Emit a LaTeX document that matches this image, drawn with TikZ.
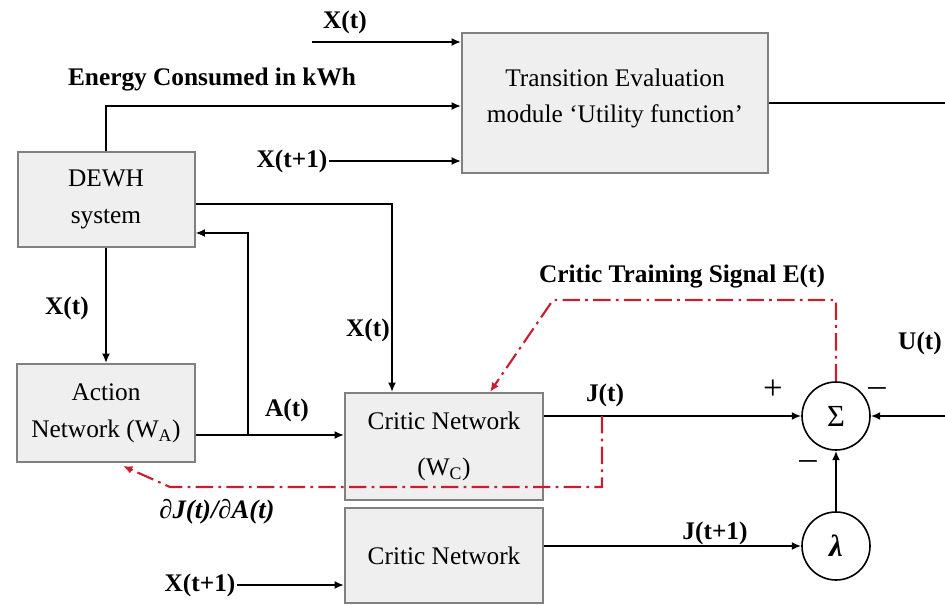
\documentclass[tikz,border=0pt]{standalone}
\usepackage{fontspec}
\setmainfont{Liberation Serif}
\usetikzlibrary{arrows.meta,calc}
\definecolor{boxfill}{RGB}{239,239,239}
\definecolor{boxline}{RGB}{128,128,128}
\definecolor{sigred}{RGB}{200,30,50}
\begin{document}
\begin{tikzpicture}[x=0.75pt,y=-0.75pt,
  every node/.style={font=\fontsize{19}{22}\selectfont},
  blockbox/.style={draw=boxline,line width=1.5pt,fill=boxfill,align=center,inner sep=0pt},
  sumcircle/.style={circle,draw=black,line width=1.2pt,minimum size={68*0.75pt},inner sep=0pt},
  lab/.style={font=\fontsize{19}{22}\selectfont\bfseries,inner sep=1pt},
  sign/.style={font=\fontsize{26}{28}\selectfont,inner sep=0pt},
  arr/.style={line width=1.6pt,-{Latex[length=7pt,width=6pt]}},
  wire/.style={line width=1.6pt},
  redsig/.style={draw=sigred,line width=1.6pt,dash pattern=on 13pt off 4pt on 2pt off 4pt,-{Latex[length=7pt,width=6pt]}}
]
\useasboundingbox (0,0) rectangle (945,606);
% blocks
\node[blockbox,minimum width={306*0.75pt},minimum height={140*0.75pt}] (trans) at (615,103)
  {Transition Evaluation\\[5pt]module `Utility function'\\[-11.5pt]\mbox{}};
\node[blockbox,minimum width={177*0.75pt},minimum height={95*0.75pt}] (dewh) at (106,199.5)
  {DEWH\\[6pt]system};
\node[blockbox,minimum width={178*0.75pt},minimum height={98*0.75pt}] (action) at (106,413)
  {Action\\[6pt]Network (W$_\mathrm{A}$)};
\node[blockbox,minimum width={198*0.75pt},minimum height={107*0.75pt}] (critic) at (444,446.5)
  {Critic Network\\[13pt](W$_\mathrm{C}$)};
\node[blockbox,minimum width={198*0.75pt},minimum height={95*0.75pt}] (critic2) at (444,555.5)
  {Critic Network};
\node[sumcircle,font=\fontsize{23}{25}\selectfont] (sigma) at (836,416) {Σ};
\node[sumcircle,font=\fontsize{23}{25}\selectfont\bfseries\itshape] (lam) at (836,546) {λ};

% coordinates
\coordinate (xt0) at (312,42);
\coordinate (e1) at (106,106);
\coordinate (d1) at (392,204);
\coordinate (a1) at (248,435);
\coordinate (a2) at (248,233);
\coordinate (u0) at (945,416);
\coordinate (r1) at (553,300);
\coordinate (r2) at (490,0);
\coordinate (j1) at (602,416);
\coordinate (j2) at (170,487);
\coordinate (j3) at (123,466);

% labels
\node[lab] (lxt) at (345,22) {X(t)};
\node[lab] (len) at (212,80) {Energy Consumed in kWh};
\node[lab] (lxt1) at (292,161) {X(t+1)};
\node[lab] (lxa) at (67,308) {X(t)};
\node[lab] (lxc) at (368,330) {X(t)};
\node[lab] (lat) at (287,410) {A(t)};
\node[lab] (ljt) at (605,395) {J(t)};
\node[sign] (plus) at (773,390) {+};
\node[sign] (m1) at (877,392) {–};
\node[sign] (m2) at (808,465) {–};
\node[lab] (lut) at (920,343) {U(t)};
\node[lab] (ljt1) at (715,533) {J(t+1)};
\node[lab] (lcts) at (682,277) {Critic Training Signal E(t)};
\node[lab,font=\fontsize{20}{22}\selectfont\bfseries\itshape] (ldj) at (217,512) {∂J(t)/∂A(t)};
\node[lab] (lxt1b) at (200,585) {X(t+1)};

% connectors
\draw[arr] (xt0) -- (xt0 -| trans.west);
\draw[arr] (dewh.north) -- (e1) -- (e1 -| trans.west);
\draw[arr] (lxt1.east) -- (lxt1.east -| trans.west);
\draw[wire] (trans.east) -- (trans.east -| u0);
\draw[arr] (d1 -| dewh.east) -- (d1) -- (d1 |- critic.north);
\draw[arr] (dewh.south) -- (action.north);
\draw[arr] (a1 -| action.east) -- (a1 -| critic.west);
\draw[arr] (a1) -- (a2) -- (a2 -| dewh.east);
\draw[arr] (lxt1b.east) -- (lxt1b.east -| critic2.west);
\draw[arr] (sigma.west -| critic.east) -- (sigma.west);
\draw[arr] (u0) -- (sigma.east);
\draw[arr] (lam.west -| critic2.east) -- (lam.west);
\draw[arr] (lam.north) -- (sigma.south);
\draw[redsig] (sigma.north) |- (r1) -- (r2 |- critic.north);
\draw[redsig] (j1) |- (j2) -- (j3);
\end{tikzpicture}
\end{document}
